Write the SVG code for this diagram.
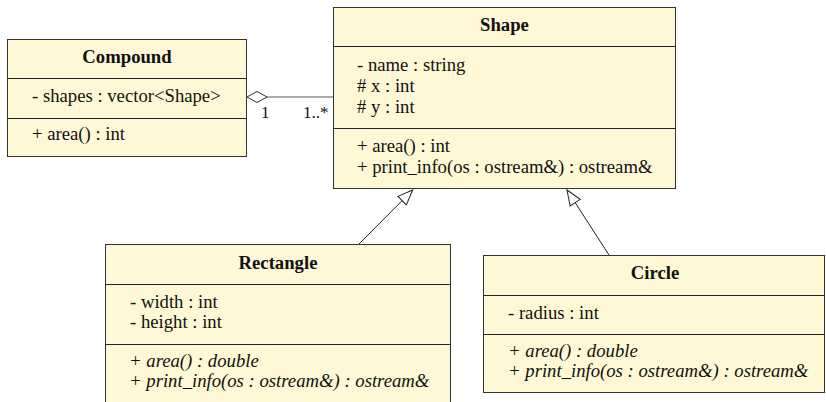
<svg xmlns="http://www.w3.org/2000/svg" width="826" height="402" viewBox="0 0 826 402">
  <style>
    .box { fill: #FFF8D6; stroke: #333; stroke-width: 1; }
    .sep { stroke: #222; stroke-width: 1; }
    text { font-family: "Liberation Serif", "Times New Roman", serif; font-size: 18.7px; fill: #111; }
    .title { font-weight: bold; text-anchor: middle; }
    .op { font-style: italic; }
    .mult { font-size: 17px; }
    .link { fill: none; stroke: #222; stroke-width: 1; }
    .agg { fill: none; stroke: #555; stroke-width: 1; }
    .hollow { fill: #fff; stroke: #222; stroke-width: 1; }
  </style>
  <defs>
    <!-- hollow triangle for generalization -->
    <marker id="gen" markerUnits="userSpaceOnUse" markerWidth="17" markerHeight="14" refX="15" refY="6" orient="auto" overflow="visible">
      <path class="hollow" d="M0,0 L15,6 L0,12 Z"/>
    </marker>
  </defs>

  <!-- connectors -->
  <g id="connectors">
    <line class="agg" x1="267" y1="97" x2="333" y2="97"/>
    <polygon class="hollow" points="247,97 257,91.5 267,97 257,102.5" style="stroke:#333"/>
    <text class="mult" x="261" y="118">1</text>
    <text class="mult" x="303" y="118">1..*</text>
    <line class="link" x1="359" y1="244" x2="412.7" y2="190" marker-end="url(#gen)"/>
    <line class="link" x1="609" y1="255" x2="567" y2="190" marker-end="url(#gen)"/>
  </g>

  <!-- Compound -->
  <g id="compound">
    <rect class="box" x="7.5" y="39.5" width="239" height="117"/>
    <line class="sep" x1="7.5" y1="78.5" x2="246.5" y2="78.5"/>
    <line class="sep" x1="7.5" y1="118.5" x2="246.5" y2="118.5"/>
    <text class="title" x="127" y="63">Compound</text>
    <text x="32" y="102">- shapes : vector&lt;Shape&gt;</text>
    <text x="32" y="140">+ area() : int</text>
  </g>

  <!-- Shape -->
  <g id="shape">
    <rect class="box" x="333.5" y="7.5" width="342" height="181"/>
    <line class="sep" x1="333.5" y1="46.5" x2="675.5" y2="46.5"/>
    <line class="sep" x1="333.5" y1="128.5" x2="675.5" y2="128.5"/>
    <text class="title" x="504.5" y="31">Shape</text>
    <text x="357" y="71">- name : string</text>
    <text x="357" y="92"># x : int</text>
    <text x="357" y="113"># y : int</text>
    <text x="357" y="152">+ area() : int</text>
    <text x="357" y="173">+ print_info(os : ostream&amp;) : ostream&amp;</text>
  </g>

  <!-- Rectangle -->
  <g id="rectangle">
    <rect class="box" x="105.5" y="244.5" width="345" height="170"/>
    <line class="sep" x1="105.5" y1="284.5" x2="450.5" y2="284.5"/>
    <line class="sep" x1="105.5" y1="344.5" x2="450.5" y2="344.5"/>
    <text class="title" x="278" y="269">Rectangle</text>
    <text x="130" y="308">- width : int</text>
    <text x="130" y="328">- height : int</text>
    <text class="op" x="129" y="367">+ area() : double</text>
    <text class="op" x="129" y="387">+ print_info(os : ostream&amp;) : ostream&amp;</text>
  </g>

  <!-- Circle -->
  <g id="circle">
    <rect class="box" x="483.5" y="255.5" width="341" height="137"/>
    <line class="sep" x1="483.5" y1="295.5" x2="824.5" y2="295.5"/>
    <line class="sep" x1="483.5" y1="334.5" x2="824.5" y2="334.5"/>
    <text class="title" x="655" y="279">Circle</text>
    <text x="508" y="319">- radius : int</text>
    <text class="op" x="508" y="357">+ area() : double</text>
    <text class="op" x="508" y="377">+ print_info(os : ostream&amp;) : ostream&amp;</text>
  </g>
</svg>
